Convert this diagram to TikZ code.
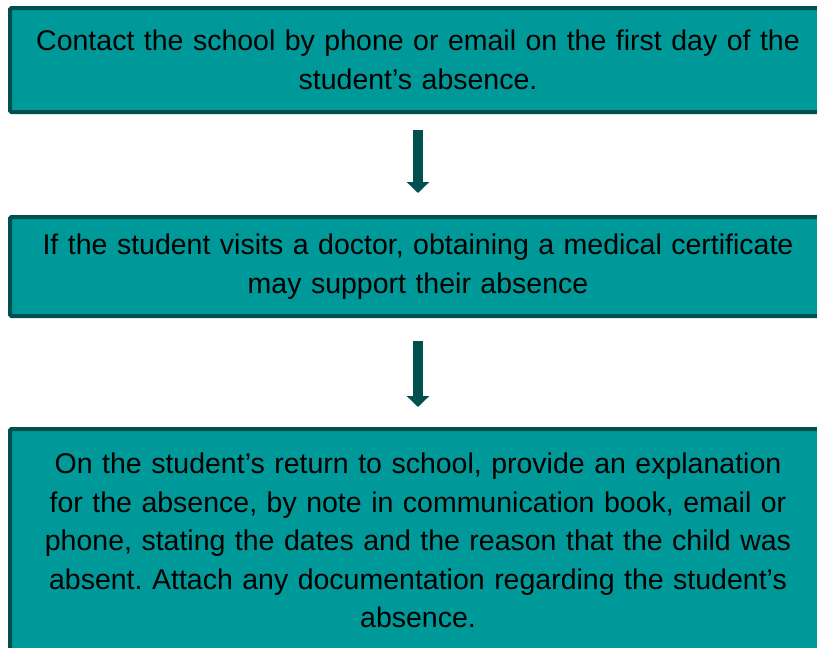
\documentclass[tikz,border=0pt]{standalone}
\usepackage{fontspec}
\setmainfont{Liberation Sans}
\usetikzlibrary{arrows.meta}
\definecolor{stepfill}{RGB}{0,153,153}
\definecolor{stepline}{RGB}{0,80,80}
\frenchspacing

\begin{document}
\begin{tikzpicture}[x=1pt,y=-1pt,
    stepbox/.style={draw=stepline, fill=stepfill, line width=4pt, rounded corners=1.5pt,
      minimum width=816pt, text width=805pt, align=center,
      font=\fontsize{28.5}{38.5}\selectfont},
    down/.style={stepline, line width=10pt, -{Triangle[width=22pt,length=11pt]}}]
   % pixel units, y going down
   \useasboundingbox (0,0) rectangle (817,648);

   \node[stepbox, minimum height=104pt] (contact) at (418,60)
     {Contact the school by phone or email on the first day of the\\student’s absence.};
   \node[stepbox, minimum height=99pt] (doctor) at (418,266.5)
     {If the student visits a doctor, obtaining a medical certificate\\may support their absence};
   \node[stepbox, minimum height=223pt] (return) at (418,540.5)
     {On the student’s return to school, provide an explanation\\for the absence, by note in communication book, email or\\phone, stating the dates and the reason that the child was\\absent. Attach any documentation regarding the student’s\\absence.};

   \draw[down, shorten <=16pt, shorten >=22pt] (contact.south) -- (doctor.north);
   \draw[down, shorten <=23pt, shorten >=20pt] (doctor.south) -- (return.north);
\end{tikzpicture}
\end{document}
